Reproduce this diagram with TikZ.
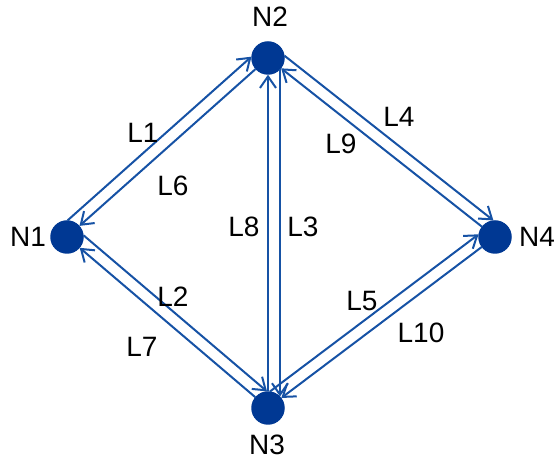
\documentclass[tikz,border=0pt]{standalone}
\usepackage{fontspec}
\setmainfont{Liberation Sans}
\usetikzlibrary{calc,arrows.meta}

\definecolor{nodeblue}{RGB}{0,56,147}
\definecolor{linkblue}{RGB}{22,82,165}

\tikzset{
  dot/.style={circle, fill=nodeblue, draw=none, minimum size=33.5pt, inner sep=0pt},
  link/.style={draw=linkblue, line width=2pt,
    -{Straight Barb[length=11.5pt,width=16pt]}},
  lbl/.style={font=\fontsize{28}{30}\selectfont, text=black, inner sep=0pt},
}

% \linkab{from}{to}{left offset}{distance from centre to rim along the link}
\newcommand\linkab[4]{%
  \draw[link]
    ($(#1.center)!#4pt!(#2.center)!#3pt!90:(#2.center)$) --
    ($(#2.center)!#4pt!(#1.center)!#3pt!-90:(#1.center)$);}

\begin{document}
\begin{tikzpicture}[x=1pt,y=-1pt]
  \useasboundingbox (0,0) rectangle (558,462);

  % routers
  \node[dot] (N1) at (67,237) {};
  \node[dot] (N2) at (268,58) {};
  \node[dot] (N3) at (268,408) {};
  \node[dot] (N4) at (495,237) {};

  \node[lbl] (tN1) at (28,237) {N1};
  \node[lbl] (tN2) at (270,17) {N2};
  \node[lbl] (tN3) at (267,445) {N3};
  \node[lbl] (tN4) at (537,237) {N4};

  % forward links (offset to the left of travel)
  \linkab{N1}{N2}{12}{11.5}
  \linkab{N1}{N3}{12}{11.5}
  \linkab{N2}{N3}{12}{11.5}
  \linkab{N2}{N4}{12}{11.5}
  \linkab{N3}{N4}{12}{11.5}
  % return links
  \linkab{N2}{N1}{0}{16.7}
  \linkab{N3}{N1}{0}{16.7}
  \linkab{N3}{N2}{0}{16.7}
  \linkab{N4}{N2}{0}{16.7}
  \linkab{N4}{N3}{0}{16.7}

  % link labels
  \node[lbl] (tL1) at (143,133) {L1};
  \node[lbl] (tL6) at (173,186) {L6};
  \node[lbl] (tL8) at (244,227) {L8};
  \node[lbl] (tL3) at (303,227) {L3};
  \node[lbl] (tL4) at (399,117) {L4};
  \node[lbl] (tL9) at (341,144) {L9};
  \node[lbl] (tL2) at (173,297) {L2};
  \node[lbl] (tL7) at (142,347) {L7};
  \node[lbl] (tL5) at (362,301) {L5};
  \node[lbl] (tL10) at (421,333) {L10};
\end{tikzpicture}
\end{document}
